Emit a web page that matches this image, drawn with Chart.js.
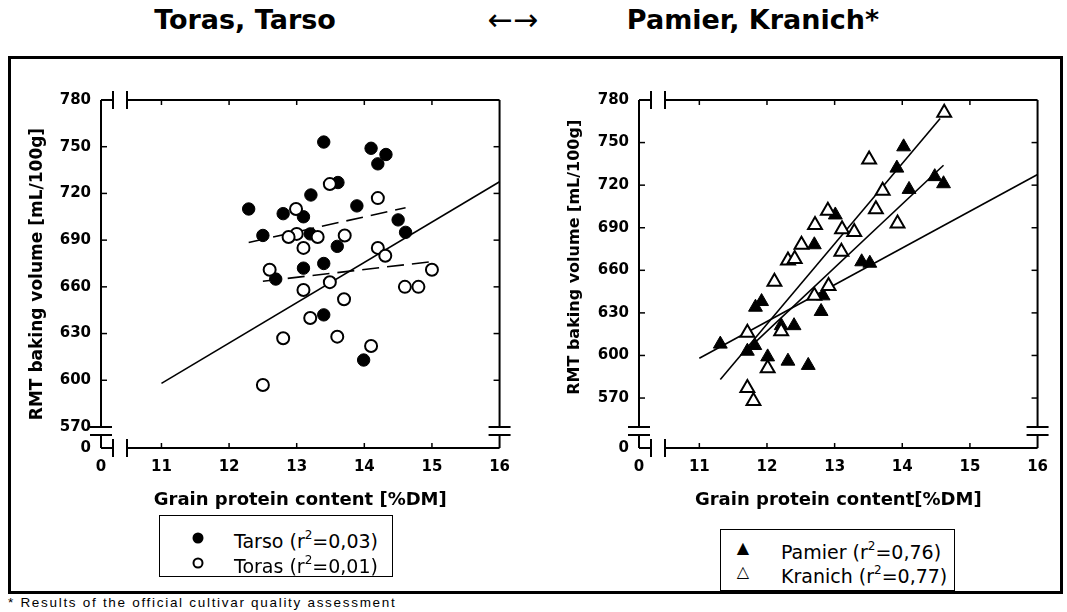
<!DOCTYPE html>
<html>
<head>
<meta charset="utf-8">
<script src="https://cdn.jsdelivr.net/npm/chart.js@4.4.1/dist/chart.umd.min.js"></script>
<style>
  body { margin: 0; width: 1067px; height: 612px; background: #fff; position: relative; overflow: hidden;
         font-family: "Liberation Sans", Arial, sans-serif; color: #000; }
  .abs { position: absolute; }
  .head { position: absolute; top: 3px; font-family: "DejaVu Sans", sans-serif; font-weight: bold; font-size: 27px; line-height: 34px; transform: translateX(-50%); white-space: nowrap; }
  #frame { position: absolute; left: 8px; top: 56px; width: 1055px; height: 538px; border: 3px solid #000; box-sizing: border-box; }
  .legend { position: absolute; border: 1px solid #000; background: #fff; box-sizing: border-box; font-family: "DejaVu Sans", sans-serif; font-size: 19px; }
  .row { position: absolute; white-space: nowrap; line-height: 22px; }
  .mk { position: absolute; font-family: "DejaVu Sans", sans-serif; line-height: 20px; transform: translateX(-50%); }
  .dot { position: absolute; width: 11px; height: 11px; border-radius: 50%; box-sizing: border-box; transform: translate(-50%, -50%); }
  sup { font-size: 12px; position: relative; top: -2px; }
  #note { position: absolute; left: 8px; top: 595px; font-size: 13.5px; letter-spacing: 1.7px; white-space: nowrap; }
</style>
</head>
<body>
<div class="head" style="left:245px">Toras, Tarso</div>
<div class="head" style="left:513px; font-weight:normal; font-size:30px">&larr;&rarr;</div>
<div class="head" style="left:753px">Pamier, Kranich*</div>
<div id="frame"></div>

<canvas id="leftChart" class="abs" width="510" height="460" style="left:10px; top:60px"></canvas>
<canvas id="rightChart" class="abs" width="510" height="460" style="left:548px; top:60px"></canvas>

<div class="legend" style="left:159px; top:515px; width:234px; height:62px">
  <span class="dot" style="left:38px; top:22px; background:#000"></span>
  <div class="row" style="left:74px; top:10px">Tarso (r<sup>2</sup>=0,03)</div>
  <span class="dot" style="left:38px; top:47px; border:2px solid #000"></span>
  <div class="row" style="left:74px; top:35px">Toras (r<sup>2</sup>=0,01)</div>
</div>
<div class="legend" style="left:720px; top:529px; width:235px; height:62px">
  <span class="mk" style="left:22px; top:8px; font-size:16px">&#9650;</span>
  <div class="row" style="left:60px; top:7px">Pamier (r<sup>2</sup>=0,76)</div>
  <span class="mk" style="left:22px; top:32px; font-size:16px">&#9651;</span>
  <div class="row" style="left:60px; top:31px">Kranich (r<sup>2</sup>=0,77)</div>
</div>
<div id="note">* Results of the official cultivar quality assessment</div>

<script>
// tick values (the lowest value on each axis sits at the axis break and is labelled "0")
const xTickValues = [11, 12, 13, 14, 15, 16];
const yTickValues = [570, 600, 630, 660, 690, 720, 750, 780];
const leftXMin = 10.106, leftYMin = 556.5;
const rightXMin = 10.108, rightYMin = 534.8;

// left panel: Tarso (filled) / Toras (open)
const tarsoX = [13.40, 14.10, 14.32, 14.20, 13.61, 13.21, 12.29, 12.80, 13.10, 13.89, 14.50, 14.61, 12.50, 13.20, 13.60, 13.40, 13.10, 12.69, 13.40, 13.99];
const tarsoY = [753, 749, 745, 739, 727, 719, 710, 707, 705, 712, 703, 695, 693, 694, 686, 675, 672, 665, 642, 613];
const torasX = [13.49, 14.20, 12.99, 13.00, 12.88, 13.31, 13.71, 13.10, 14.20, 14.31, 12.60, 15.00, 13.49, 13.10, 14.60, 14.80, 13.70, 13.20, 12.80, 13.60, 14.10, 12.50];
const torasY = [726, 717, 710, 694, 692, 692, 693, 685, 685, 680, 671, 671, 663, 658, 660, 660, 652, 640, 627, 628, 622, 597];

// right panel: Pamier (filled) / Kranich (open)
const pamierX = [14.02, 13.92, 14.48, 14.61, 14.10, 13.01, 12.70, 13.40, 13.52, 11.83, 11.92, 12.83, 12.80, 12.21, 12.40, 11.31, 11.82, 11.71, 12.01, 12.31, 12.61];
const pamierY = [747, 732, 726, 721, 717, 699, 678, 666, 665, 634, 638, 642, 631, 621, 621, 608, 607, 603, 599, 596, 593];
const kranichX = [14.62, 13.51, 13.71, 13.61, 12.90, 12.71, 13.93, 13.11, 13.29, 12.51, 13.10, 12.31, 12.41, 12.11, 12.91, 12.70, 11.71, 12.21, 12.01, 11.71, 11.80];
const kranichY = [771, 738, 716, 703, 702, 692, 693, 689, 687, 678, 673, 667, 668, 652, 649, 642, 616, 617, 591, 577, 568];

// fitted lines (end points)
const commonFitX = [11, 16], commonFitY = [598, 727.5];
const tarsoFitX = [12.29, 14.61], tarsoFitY = [688.5, 710.8];
const torasFitX = [12.50, 14.98], torasFitY = [663.6, 676.1];
const steepFitX = [11.31, 14.56], steepFitY = [583, 767];
const midFitX = [11.73, 14.61], midFitY = [605, 734];

const FONT = '"DejaVu Sans", sans-serif';
const Y_TITLE = 'RMT baking volume [mL/100g]';
const toPoints = (xs, ys) => xs.map((x, i) => ({ x: x, y: ys[i] }));

const lineSet = (xs, ys, dash) => ({
    data: toPoints(xs, ys), showLine: true, pointRadius: 0, borderColor: '#000',
    borderWidth: 1.6, borderDash: dash || [], fill: false
});

const axisFrame = {
    id: 'axisFrame',
    afterDraw(chart) {
        const { ctx, chartArea: a, scales } = chart;
        const L = a.left, R = a.right, T = a.top, B = a.bottom;
        const b1 = B - 21, b2 = B - 13;   // y break
        const c1 = L + 12, c2 = L + 26;   // x break
        ctx.save();
        ctx.strokeStyle = '#000';
        ctx.lineWidth = 2;
        const seg = (x1, y1, x2, y2) => { ctx.beginPath(); ctx.moveTo(x1, y1); ctx.lineTo(x2, y2); ctx.stroke(); };
        [L, R].forEach(px => {
            seg(px, T, px, b1); seg(px, b2, px, B);
            seg(px - 11, b1, px + 11, b1); seg(px - 11, b2, px + 11, b2);
        });
        [T, B].forEach(py => {
            seg(L, py, c1, py); seg(c2, py, R, py);
            seg(c1, py - 9, c1, py + 9); seg(c2, py - 9, c2, py + 9);
        });
        ctx.lineWidth = 1.5;
        xTickValues.slice(0, -1).forEach(v => {
            const px = scales.x.getPixelForValue(v);
            seg(px, B, px, B - 5); seg(px, T, px, T + 5);
        });
        yTickValues.slice(0, -1).forEach(v => {
            const py = scales.y.getPixelForValue(v);
            if (py > b1 - 2) return;
            seg(L, py, L + 6, py); seg(R, py, R - 6, py);
        });
        ctx.restore();
    }
};

function makeChart(id, xMin, yMin, datasets, xTitle, yTitle, yTitleSize) {
    return new Chart(document.getElementById(id), {
        type: 'scatter',
        data: { datasets: datasets },
        options: {
            responsive: false,
            animation: false,
            devicePixelRatio: 1,
            layout: { padding: { top: 40, right: 17, left: 0, bottom: 0 }, autoPadding: false },
            plugins: { legend: { display: false }, tooltip: { enabled: false } },
            scales: {
                x: {
                    type: 'linear', min: xMin, max: 16,
                    afterBuildTicks: s => { s.ticks = [xMin].concat(xTickValues).map(v => ({ value: v })); },
                    afterFit: s => { s.height = 72; },
                    grid: { display: false, drawTicks: false },
                    border: { display: false },
                    ticks: {
                        color: '#000', padding: 10, maxRotation: 0, autoSkip: false,
                        font: { family: FONT, size: 15, weight: 'bold' },
                        callback: v => (v === xMin ? '0' : v)
                    },
                    title: {
                        display: true, text: xTitle, color: '#000',
                        font: { family: FONT, size: 18, weight: 'bold' }, padding: { top: 0, bottom: 9 }
                    }
                },
                y: {
                    type: 'linear', min: yMin, max: 780,
                    afterBuildTicks: s => { s.ticks = [yMin].concat(yTickValues).map(v => ({ value: v })); },
                    afterFit: s => { s.width = 91; },
                    grid: { display: false, drawTicks: false },
                    border: { display: false },
                    ticks: {
                        color: '#000', padding: 10, autoSkip: false,
                        font: { family: FONT, size: 15, weight: 'bold' },
                        callback: v => (v === yMin ? '0' : v)
                    },
                    title: {
                        display: true, text: yTitle, color: '#000',
                        font: { family: FONT, size: yTitleSize, weight: 'bold' }, padding: { top: 17, bottom: 0 }
                    }
                }
            }
        },
        plugins: [axisFrame]
    });
}

makeChart('leftChart', leftXMin, leftYMin, [
    { data: toPoints(torasX, torasY), pointStyle: 'circle', pointRadius: 6, backgroundColor: '#fff', borderColor: '#000', borderWidth: 2 },
    { data: toPoints(tarsoX, tarsoY), pointStyle: 'circle', pointRadius: 6.2, backgroundColor: '#000', borderColor: '#000', borderWidth: 1 },
    lineSet(tarsoFitX, tarsoFitY, [17, 8]),
    lineSet(torasFitX, torasFitY, [17, 8]),
    lineSet(commonFitX, commonFitY)
], 'Grain protein content [%DM]', Y_TITLE, 17);

// leading no-break spaces lift the centred right-hand title a little, as in the original
makeChart('rightChart', rightXMin, rightYMin, [
    { data: toPoints(kranichX, kranichY), pointStyle: 'triangle', pointRadius: 8, backgroundColor: '#fff', borderColor: '#000', borderWidth: 2 },
    { data: toPoints(pamierX, pamierY), pointStyle: 'triangle', pointRadius: 8, backgroundColor: '#000', borderColor: '#000', borderWidth: 1 },
    lineSet(steepFitX, steepFitY),
    lineSet(midFitX, midFitY),
    lineSet(commonFitX, commonFitY)
], 'Grain protein content[%DM]', '\u00a0\u00a0\u00a0\u00a0\u00a0\u00a0' + Y_TITLE, 16);
</script>
</body>
</html>
